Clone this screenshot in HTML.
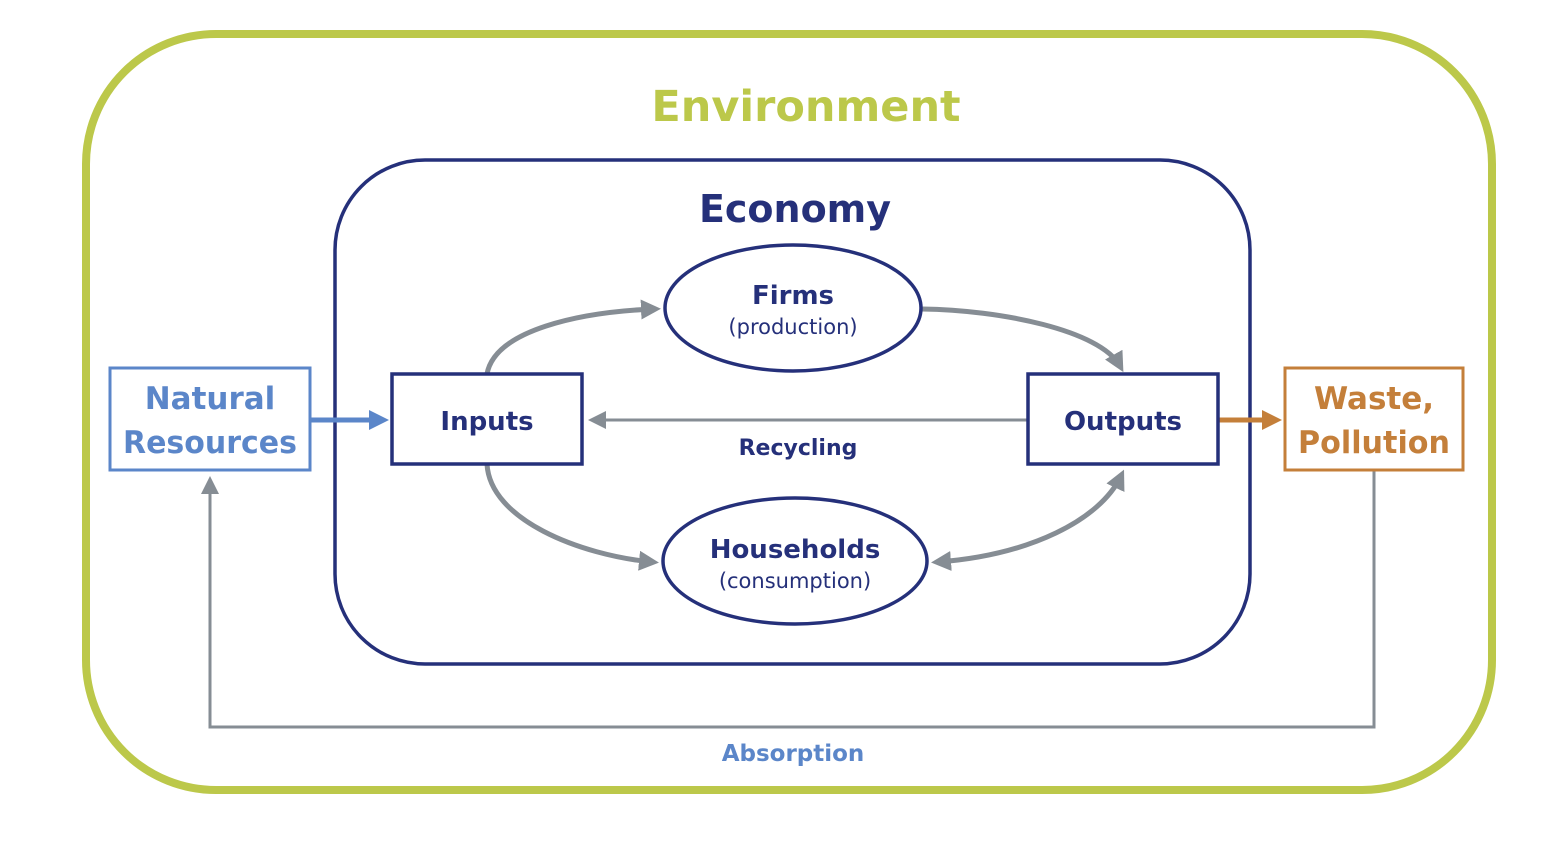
<!DOCTYPE html>
<html><head><style>body{margin:0;background:#fff}svg{display:block}text{font-family:"DejaVu Sans","Liberation Sans",sans-serif;font-weight:bold}</style></head>
<body>
<svg width="1568" height="842" viewBox="0 0 1568 842" xmlns="http://www.w3.org/2000/svg">
<defs>
<marker id="g" markerWidth="4" markerHeight="4" refX="2.6" refY="2" orient="auto-start-reverse" markerUnits="strokeWidth"><path d="M0,0 L4,2 L0,4 Z" fill="#868d94"/></marker>
<marker id="gs" markerWidth="6" markerHeight="6" refX="4" refY="3" orient="auto" markerUnits="strokeWidth"><path d="M0,0 L6,3 L0,6 Z" fill="#868d94"/></marker>
<marker id="b" markerWidth="4" markerHeight="4" refX="2.6" refY="2" orient="auto" markerUnits="strokeWidth"><path d="M0,0 L4,2 L0,4 Z" fill="#5b86c9"/></marker>
<marker id="o" markerWidth="4" markerHeight="4" refX="2.6" refY="2" orient="auto" markerUnits="strokeWidth"><path d="M0,0 L4,2 L0,4 Z" fill="#c47f3a"/></marker>
</defs>
<rect x="86" y="34" width="1406" height="756" rx="130" fill="none" stroke="#bcc84a" stroke-width="8"/>
<text x="806" y="121" font-size="43" fill="#bcc84a" text-anchor="middle">Environment</text>
<rect x="335" y="160" width="915" height="504" rx="90" fill="none" stroke="#25307a" stroke-width="3.5"/>
<text x="795" y="222" font-size="38" fill="#25307a" text-anchor="middle">Economy</text>

<path d="M1374,470 V727 H210 V482" fill="none" stroke="#868d94" stroke-width="3" marker-end="url(#gs)"/>
<text x="793" y="761" font-size="23" fill="#5b86c9" text-anchor="middle">Absorption</text>

<rect x="110" y="368" width="200" height="102" fill="#fff" stroke="#5b86c9" stroke-width="3"/>
<text x="210" y="409" font-size="31" fill="#5b86c9" text-anchor="middle">Natural</text>
<text x="210" y="453" font-size="31" fill="#5b86c9" text-anchor="middle" textLength="174" lengthAdjust="spacingAndGlyphs">Resources</text>
<rect x="1285" y="368" width="178" height="102" fill="#fff" stroke="#c47f3a" stroke-width="3"/>
<text x="1374" y="409" font-size="31" fill="#c47f3a" text-anchor="middle">Waste,</text>
<text x="1374" y="453" font-size="31" fill="#c47f3a" text-anchor="middle" textLength="152" lengthAdjust="spacingAndGlyphs">Pollution</text>

<line x1="310" y1="420" x2="382" y2="420" stroke="#5b86c9" stroke-width="5" marker-end="url(#b)"/>
<line x1="1218" y1="420" x2="1275" y2="420" stroke="#c47f3a" stroke-width="5" marker-end="url(#o)"/>
<line x1="1028" y1="420" x2="594" y2="420" stroke="#868d94" stroke-width="3" marker-end="url(#gs)"/>
<text x="798" y="455" font-size="22" fill="#25307a" text-anchor="middle">Recycling</text>

<path d="M487,374 C495,330 580,312 654,309" fill="none" stroke="#868d94" stroke-width="5" marker-end="url(#g)"/>
<path d="M922,309 C1000,310 1100,330 1120,366" fill="none" stroke="#868d94" stroke-width="5" marker-end="url(#g)"/>
<path d="M487,464 C490,520 580,555 652,562" fill="none" stroke="#868d94" stroke-width="5" marker-end="url(#g)"/>
<path d="M938,562 C1030,555 1100,520 1121,476" fill="none" stroke="#868d94" stroke-width="5" marker-start="url(#g)" marker-end="url(#g)"/>

<rect x="392" y="374" width="190" height="90" fill="#fff" stroke="#25307a" stroke-width="3.5"/>
<text x="487" y="430" font-size="26" fill="#25307a" text-anchor="middle">Inputs</text>
<rect x="1028" y="374" width="190" height="90" fill="#fff" stroke="#25307a" stroke-width="3.5"/>
<text x="1123" y="430" font-size="26" fill="#25307a" text-anchor="middle">Outputs</text>

<ellipse cx="793" cy="308" rx="128" ry="63" fill="#fff" stroke="#25307a" stroke-width="3.5"/>
<text x="793" y="304" font-size="26" fill="#25307a" text-anchor="middle">Firms</text>
<text x="793" y="334" font-size="21" fill="#25307a" text-anchor="middle" style="font-weight:normal">(production)</text>
<ellipse cx="795" cy="561" rx="132" ry="63" fill="#fff" stroke="#25307a" stroke-width="3.5"/>
<text x="795" y="558" font-size="26" fill="#25307a" text-anchor="middle">Households</text>
<text x="795" y="588" font-size="21" fill="#25307a" text-anchor="middle" style="font-weight:normal">(consumption)</text>
</svg>
</body></html>
